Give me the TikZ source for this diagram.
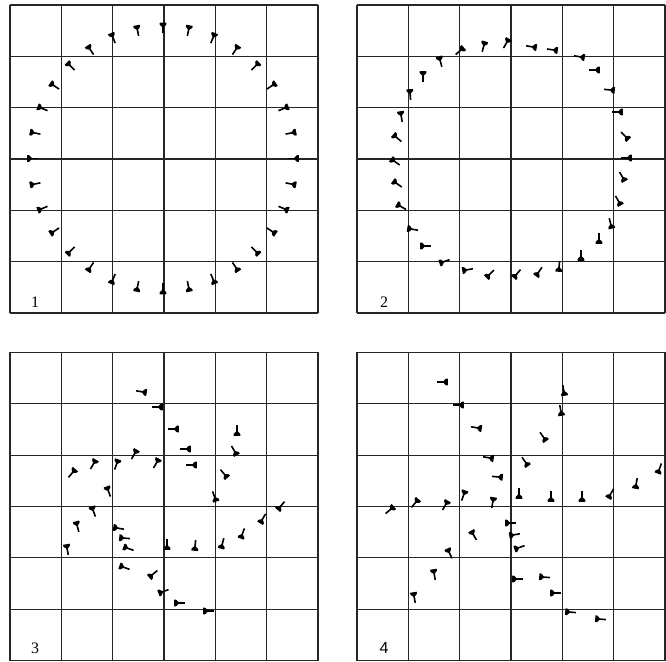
\documentclass[tikz,border=0pt]{standalone}
\usepackage{fontspec}
\setmainfont{Liberation Serif}
\newfontfamily\labsans{Liberation Sans}
\begin{document}
\begin{tikzpicture}[x=1pt,y=1pt,
  gridline/.style={line width=1.2pt,draw=black!85},
  lab/.style={font=\fontsize{16}{18}\selectfont,inner sep=0pt},
  glyph/.pic={
    \draw[line width=1.6pt] (-2,0) -- (7,0);
    \fill[rounded corners=0.4pt] (-3.8,-3.4) -- (-1.6,-3.2) -- (1.2,0) -- (-1.6,3.2) -- (-3.8,3.4) -- cycle;
  }]
\useasboundingbox (0,0) rectangle (666,661);
\fill[white] (0,0) rectangle (666,661);
% grids
\foreach \ox/\oy in {10/656, 357/656, 10/308.5, 357/308.5}{
  \foreach \i in {0,...,6}{
    \draw[gridline] ({\ox+\i*308/6},\oy) -- ({\ox+\i*308/6},{\oy-308});
    \draw[gridline] (\ox,{\oy-\i*308/6}) -- ({\ox+308},{\oy-\i*308/6});
  }
}
% panel 1
\foreach \k in {0,...,31}{
  \pgfmathsetmacro\t{90-11.25*\k}
  \pic[rotate=\t+180] at ({163+132*cos(\t)},{502.5+132*sin(\t)}) {glyph};
}
% panel 2
\foreach \x/\y/\a in {461/50/220, 484/45/255, 507/42/240, 533/47/170, 554/50/172, 581/57/170,
  596/70/180, 611/90/175, 619/112/180, 626/137/135, 628/158/180, 623/178/120, 619/202/120,
  611/225/105, 599/240/90, 581/257/90, 559/268/85, 538/273/55, 516/275/50, 489/275/45,
  466/270/10, 443/262/20, 424/246/0, 411/229/-10, 400/206/-30, 396/183/-35, 394/161/-35,
  396/137/-40, 401/115/-80, 410/93/-85, 423/75/-90, 440/60/-75}{
  \pic[rotate=\a] at (\x,661-\y) {glyph};
}
% panel 3
\foreach \x/\y/\a in {143/392/170, 159/407/180, 175/429/180, 237/432/90, 187/449/180,
  235/452/120, 135/453/240, 117/463/250, 94/463/240, 73/472/230, 157/462/240, 193/465/180,
  225/475/130, 108/490/-70, 215/498/110, 93/510/-70, 280/507/50, 262/520/60, 77/525/-75,
  117/528/-10, 242/535/70, 123/538/-5, 127/548/-20, 167/546/90, 195/547/85, 222/545/75,
  67/548/-80, 123/567/-20, 152/575/40, 162/592/20, 178/603/0, 207/611/0}{
  \pic[rotate=\a] at (\x,661-\y) {glyph};
}
% panel 4
\foreach \x/\y/\a in {444/382/180, 564/392/100, 460/405/180, 561/412/100, 478/428/170,
  544/438/125, 490/458/170, 526/463/125, 499/477/175, 659/470/70, 636/485/80, 519/495/90,
  551/498/90, 582/498/90, 610/495/60, 464/494/250, 493/501/260, 416/502/230, 446/504/240,
  391/509/220, 509/523/0, 473/534/-60, 513/535/10, 518/548/20, 449/552/-65, 434/573/-80,
  516/579/0, 543/577/-5, 414/596/-80, 554/593/0, 569/612/-5, 599/619/-5}{
  \pic[rotate=\a] at (\x,661-\y) {glyph};
}
% labels
\node[lab] (l1) at (35,{661-302}) {1};
\node[lab] (l2) at (384,{661-302}) {2};
\node[lab] (l3) at (35,{661-648}) {3};
\node[lab,font=\labsans\fontsize{16}{18}\selectfont] (l4) at (384,{661-648}) {4};
\end{tikzpicture}
\end{document}
